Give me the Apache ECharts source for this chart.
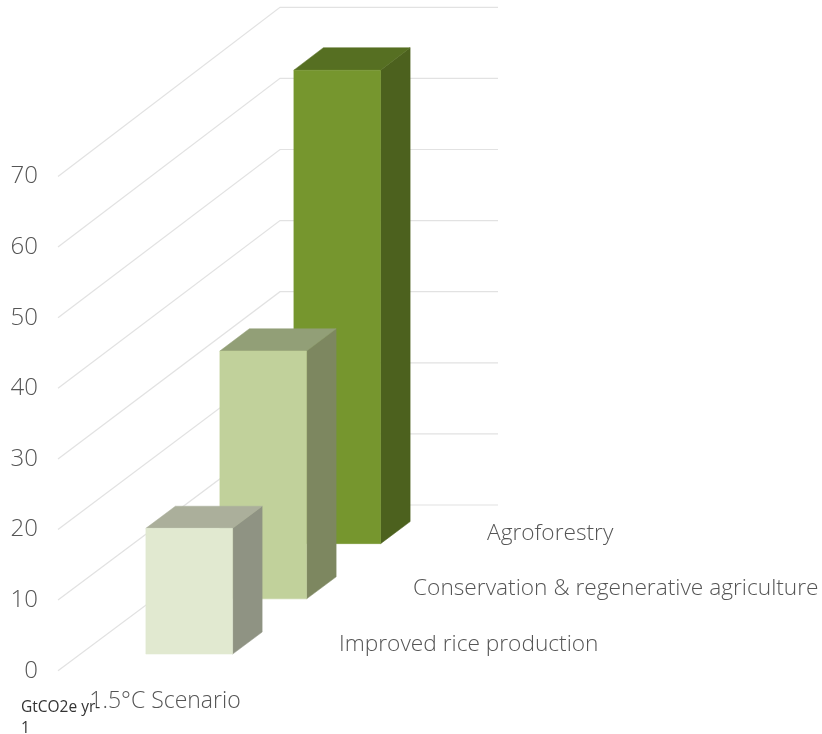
<!DOCTYPE html>
<html>
<head>
<meta charset="utf-8">
<style>html,body{margin:0;padding:0;background:#fff}#chart{width:822px;height:734px}</style>
<script src="https://cdn.jsdelivr.net/npm/echarts@6/dist/echarts.min.js"></script>
</head>
<body>
<div id="chart"></div>
<script>
// Front-to-back scenario pathways, in GtCO2e per year
var scenarioLabels = ['1.5°C Scenario'];
var pathways = ['Improved rice production', 'Conservation & regenerative agriculture', 'Agroforestry'];
var pathwayValues = [17.8, 35, 66.7];
var gridTicks = [0, 10, 20, 30, 40, 50, 60, 70];

var frontColors = ['#e1e9d0', '#c1d19b', '#76962e'];
var sideColors = ['#8f9383', '#7d8760', '#4c611e'];
var topColors = ['#abaf9b', '#929f77', '#566f22'];

// Oblique projection of the floor: how far a point moves per unit of depth
var DEPTH_X = 222, DEPTH_Y = 165.7, DEPTH_SCALE = 0.0071;
var BAR_FRACTION = 0.398, BAR_DEPTH = 0.133;
var FONT = '"Open Sans", sans-serif';
var TEXT_COLOR = '#555555';

function projector(api) {
  var base = api.coord([0, 0]);
  return function (xOffset, value, depth) {
    var p = api.coord([0, value]);
    return [
      p[0] + xOffset + DEPTH_X * depth,
      base[1] - (base[1] - p[1]) * (1 + DEPTH_SCALE * depth) - DEPTH_Y * depth
    ];
  };
}

function renderWall(params, api) {
  var project = projector(api);
  var half = api.size([1, 0])[0] / 2;
  var v = api.value(1);
  return {
    type: 'polyline',
    shape: { points: [project(-half, v, 0), project(-half, v, 1), project(half, v, 1)] },
    style: { stroke: '#e2e2e2', lineWidth: 1.2, fill: null }
  };
}

function pathwaySeries(i) {
  var centre = (i + 0.5) / pathways.length;
  return {
    type: 'custom',
    name: pathways[i],
    z: 5 + pathways.length - i,
    silent: true,
    clip: false,
    data: [[0, pathwayValues[i]]],
    encode: { x: 0, y: 1 },
    renderItem: function (params, api) {
      var project = projector(api);
      var half = api.size([1, 0])[0] * BAR_FRACTION / 2;
      var v = api.value(1);
      var near = centre - BAR_DEPTH / 2, far = centre + BAR_DEPTH / 2;
      var poly = function (points, color) {
        return { type: 'polygon', shape: { points: points }, style: { fill: color, stroke: color, lineWidth: 0.5 } };
      };
      var floorEdge = project(api.size([1, 0])[0] / 2, 0, centre);
      return {
        type: 'group',
        children: [
          poly([project(half, 0, near), project(half, 0, far), project(half, v, far), project(half, v, near)], sideColors[i]),
          poly([project(-half, v, near), project(half, v, near), project(half, v, far), project(-half, v, far)], topColors[i]),
          poly([project(-half, 0, near), project(half, 0, near), project(half, v, near), project(-half, v, near)], frontColors[i]),
          {
            type: 'text',
            style: {
              text: pathways[i], x: floorEdge[0] + 26, y: floorEdge[1] + 1,
              fill: TEXT_COLOR, font: '300 22.7px ' + FONT, textAlign: 'left', textVerticalAlign: 'middle'
            }
          }
        ]
      };
    }
  };
}

var series = [{
  type: 'custom',
  name: 'Gridlines',
  z: 2,
  silent: true,
  clip: false,
  data: gridTicks.map(function (t) { return [0, t]; }),
  encode: { x: 0, y: 1 },
  renderItem: renderWall
}];
pathways.forEach(function (_, i) { series.push(pathwaySeries(i)); });

var chart = echarts.init(document.getElementById('chart'), null, { renderer: 'canvas' });
chart.setOption({
  animation: false,
  backgroundColor: '#ffffff',
  title: {
    text: 'GtCO2e yr-\n1',
    left: 21,
    top: 697,
    padding: 0,
    textStyle: { fontFamily: FONT, fontSize: 15.5, fontWeight: 400, color: '#333333', lineHeight: 21 }
  },
  grid: { left: 58, width: 218, top: 176.5, height: 494.2 },
  xAxis: {
    type: 'category',
    data: scenarioLabels,
    axisLine: { show: false },
    axisTick: { show: false },
    axisLabel: { margin: 19, padding: [0, 4, 0, 0], fontFamily: FONT, fontSize: 23, fontWeight: 300, color: TEXT_COLOR }
  },
  yAxis: {
    type: 'value',
    min: 0,
    max: 70,
    interval: 10,
    axisLine: { show: false },
    axisTick: { show: false },
    splitLine: { show: false },
    axisLabel: { margin: 20, padding: [2, 0, 0, 0], fontFamily: FONT, fontSize: 24, fontWeight: 300, color: TEXT_COLOR }
  },
  series: series
});
</script>
</body>
</html>
